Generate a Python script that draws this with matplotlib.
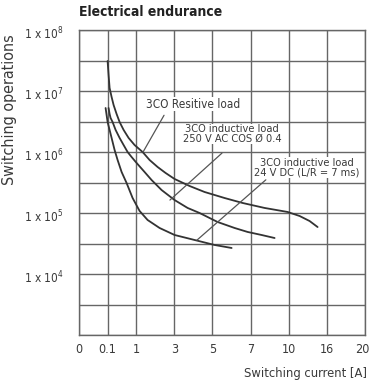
import numpy as np
import matplotlib
matplotlib.use("Agg")
import matplotlib.pyplot as plt
import matplotlib.transforms as mtransforms

# ---- data ----
x_tick_values = [0, 0.1, 1, 3, 5, 7, 10, 16, 20]
x_tick_labels = ["0", "0.1", "1", "3", "5", "7", "10", "16", "20"]
y_decades = [4, 5, 6, 7, 8]

resistive_current = [0.1, 0.131, 0.163, 0.226, 0.289, 0.383, 0.478, 0.604, 0.761, 0.950,
                     1.336, 1.703, 2.122, 2.542, 3.014, 3.801, 4.587, 5.637, 6.581, 8.10,
                     9.909, 11.71, 13.28, 14.54]
resistive_ops = [3.10e7, 1.83e7, 1.12e7, 7.97e6, 5.89e6, 4.20e6, 3.10e6, 2.30e6, 1.70e6, 1.30e6,
                 1.0e6, 7.39e5, 5.68e5, 4.53e5, 3.61e5, 2.77e5, 2.21e5, 1.76e5, 1.46e5, 1.21e5,
                 1.04e5, 8.93e4, 7.39e4, 5.89e4]

ac_current = [0.131, 0.163, 0.194, 0.257, 0.352, 0.478, 0.604, 0.729, 0.855, 1.021, 1.440,
              1.808, 2.332, 3.014, 3.696, 4.325, 5.269, 6.161, 6.843, 7.865, 8.887]
ac_ops = [5.26e6, 4.20e6, 3.61e6, 3.10e6, 2.30e6, 1.70e6, 1.30e6, 1.0e6, 8.28e5, 6.61e5, 4.70e5,
          3.47e5, 2.38e5, 1.63e5, 1.21e5, 1.0e5, 7.12e4, 5.68e4, 4.89e4, 4.36e4, 3.89e4]

dc_current = [0.093, 0.0965, 0.1, 0.163, 0.226, 0.320, 0.415, 0.541, 0.698, 0.887, 1.178,
              1.598, 2.227, 3.014, 4.063, 5.112, 6.004]
dc_ops = [5.26e6, 4.04e6, 3.10e6, 2.30e6, 1.70e6, 1.08e6, 7.39e5, 4.70e5, 3.10e5, 1.76e5, 1.08e5,
          7.68e4, 5.68e4, 4.36e4, 3.61e4, 2.99e4, 2.67e4]

labels = ["3CO Resitive load",
          "3CO inductive load\n250 V AC COS Ø 0.4",
          "3CO inductive load\n24 V DC (L/R = 7 ms)"]
# leader lines: (current, ops) on the curve -> (current, ops) near the label
leader_curve_pts = [(1.36, 1.0e6), (2.77, 1.63e5), (4.19, 3.6e4)]
leader_label_pts = [(2.46, 4.0e6), (5.5, 9.6e5), (8.2, 3.5e5)]

# ---- style ----
plt.rcParams["font.family"] = ["DejaVu Sans"]
plt.rcParams["font.stretch"] = "condensed"
plt.rcParams["mathtext.fontset"] = "dejavusans"

grid_c = "#666666"
curve_c = "#333333"
text_c = "#3a3a3a"

fig = plt.figure(figsize=(3.7, 3.84), dpi=100)
ax = fig.add_axes([79/370, 1-335/384, 286/370, 305/384])

tick_pos = [0, 0.75, 1.5, 2.5, 3.5, 4.5, 5.5, 6.5, 7.5]
fwd = lambda x: np.interp(x, x_tick_values, tick_pos)
inv = lambda p: np.interp(p, tick_pos, x_tick_values)
ax.set_xscale("function", functions=(fwd, inv))
ax.set_yscale("log")
ax.set_xlim(0, 20)
ax.set_ylim(1e3, 1e8)

ax.set_xticks(x_tick_values)
ax.set_xticklabels(x_tick_labels)
ax.xaxis.set_minor_locator(matplotlib.ticker.NullLocator())

ygrid = [10 ** (k / 2) for k in range(6, 17)]
ax.set_yticks(ygrid)
ylabels = []
for k in range(6, 17):
    if k % 2 == 0 and k // 2 in y_decades:
        ylabels.append(r"1 x 10$^{%d}$" % (k // 2))
    else:
        ylabels.append("")
ax.set_yticklabels(ylabels)
ax.yaxis.set_minor_locator(matplotlib.ticker.NullLocator())

ax.grid(True, color=grid_c, lw=1.0)
ax.set_axisbelow(True)
for s in ax.spines.values():
    s.set_color(grid_c)
    s.set_linewidth(1.0)
ax.tick_params(axis="both", length=0, colors=text_c)
ax.tick_params(axis="x", pad=6, labelsize=9)
ax.tick_params(axis="y", pad=11.5, labelsize=8.5)
shift = mtransforms.ScaledTranslation(0, -4/100, fig.dpi_scale_trans)
for lbl in ax.get_yticklabels():
    lbl.set_va("center")
    lbl.set_transform(lbl.get_transform() + shift)
last = ax.get_xticklabels()[-1]
last.set_transform(last.get_transform() + mtransforms.ScaledTranslation(-3/100, 0, fig.dpi_scale_trans))

for xs, ys in [(resistive_current, resistive_ops), (ac_current, ac_ops), (dc_current, dc_ops)]:
    ax.plot(xs, ys, color=curve_c, lw=1.3, solid_capstyle="round", solid_joinstyle="round")

for a, b in zip(leader_curve_pts, leader_label_pts):
    ax.annotate("", xy=a, xytext=b, arrowprops=dict(arrowstyle="-", color="#555555", lw=0.9,
                                                     shrinkA=0, shrinkB=0))

label_pos = [(0.399, 0.757), (0.535, 0.659), (0.797, 0.548)]
label_sizes = [8.5, 7.9, 7.9]
for txt, (fx, fy), fs in zip(labels, label_pos, label_sizes):
    ax.text(fx, fy, txt, transform=ax.transAxes, ha="center", va="center", fontsize=fs,
            color=text_c, linespacing=0.95,
            bbox=dict(facecolor="white", edgecolor="none", pad=0.5))

fig.text(79/370, 1-12/384, "Electrical endurance", fontsize=10, fontweight="bold",
         color="#222222", ha="left", va="center")
fig.text(10/370, 1-110/384, "Switching operations", rotation=90, fontsize=11.5,
         color=text_c, ha="center", va="center")
fig.text(367/370, 1-373/384, "Switching current [A]", fontsize=9.3, color=text_c,
         ha="right", va="center")

fig.savefig("out.png", dpi=100)
